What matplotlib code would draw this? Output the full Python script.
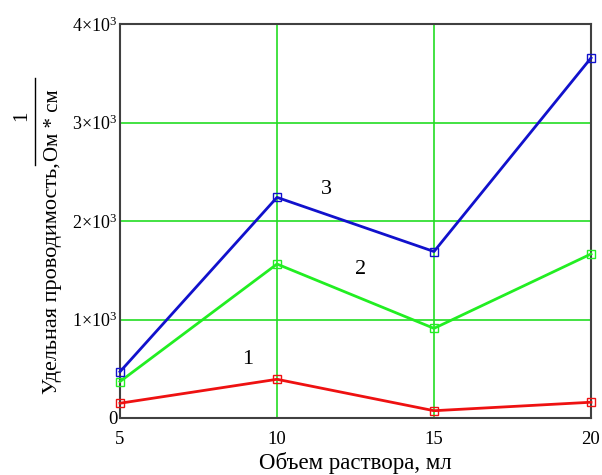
import matplotlib
matplotlib.use("Agg")
import matplotlib.pyplot as plt
from matplotlib.lines import Line2D

plt.rcParams['font.family'] = ['Liberation Serif', 'DejaVu Serif']
plt.rcParams['mathtext.fontset'] = 'custom'
plt.rcParams['mathtext.rm'] = 'Liberation Serif'
plt.rcParams['mathtext.it'] = 'Liberation Serif:italic'

x = [5, 10, 15, 20]
series1 = [150, 393, 74, 160]
series2 = [370, 1563, 910, 1665]
series3 = [470, 2240, 1690, 3655]
yticks = [0, 1000, 2000, 3000, 4000]
ytick_labels = ["0", r"$1{\times}10^{3}$", r"$2{\times}10^{3}$", r"$3{\times}10^{3}$", r"$4{\times}10^{3}$"]
xticks = [5, 10, 15, 20]
curve_labels = ["1", "2", "3"]

fig = plt.figure(figsize=(6.02, 4.75), dpi=100)
ax = fig.add_axes([120/602, 57/475, 471/602, 394/475])

grid_c = '#22dd22'
for gx in [10, 15]:
    ax.axvline(gx, color=grid_c, lw=1.2, zorder=1)
for gy in [1000, 2000, 3000]:
    ax.axhline(gy, color=grid_c, lw=1.2, zorder=1)

kw = dict(marker='s', markersize=6, markerfacecolor='none', markeredgewidth=1.0, lw=2, zorder=3, clip_on=False)
ax.plot(x, series1, color='#ee1111', **kw)
ax.plot(x, series2, color='#22ee22', **kw)
ax.plot(x, series3, color='#1111cc', **kw)

ax.text(9.08, 590, curve_labels[0], fontsize=16, ha='center', va='center')
ax.text(12.67, 1503, curve_labels[1], fontsize=16, ha='center', va='center')
ax.text(11.59, 2315, curve_labels[2], fontsize=16, ha='center', va='center')

ax.set_xlim(5, 20)
ax.set_ylim(0, 4000)
ax.set_xticks(xticks)
ax.set_xticklabels([str(v) for v in xticks])
ax.set_yticks(yticks)
ax.set_yticklabels(ytick_labels)
ax.tick_params(length=0)
ax.tick_params(axis='x', labelsize=13.5, pad=9)
ax.tick_params(axis='y', labelsize=13, pad=2)
ax.get_yticklabels()[0].set_fontsize(13.5)
for s in ax.spines.values():
    s.set_color('#404040')
    s.set_linewidth(1.5)

ax.set_xlabel("Объем раствора, мл", fontsize=16.5, labelpad=3)

# y label with fraction
fig.text(53/602, 1 - 278/475, "Удельная проводимость,", rotation=90, fontsize=16, ha='center', va='center')
fig.text(54/602, 1 - 125/475, "Ом * см", rotation=90, fontsize=15, ha='center', va='center')
fig.text(22/602, 1 - 116/475, "1", rotation=90, fontsize=15, ha='center', va='center')
fig.add_artist(Line2D([35/602, 35/602], [1 - 78/475, 1 - 165/475], color='black', lw=1, transform=fig.transFigure))

fig.savefig("out.png", dpi=100)
